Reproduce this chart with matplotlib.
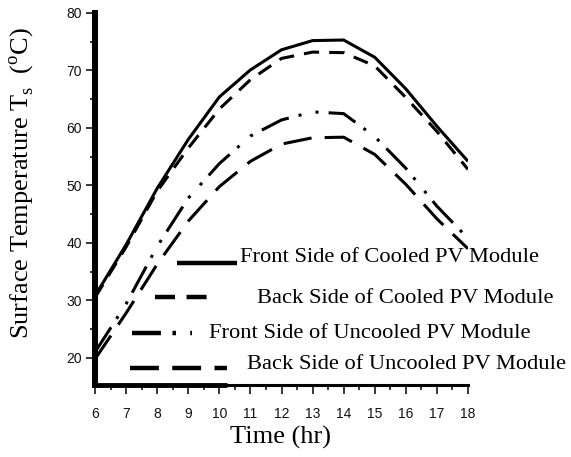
import matplotlib
matplotlib.use('Agg')
import matplotlib.pyplot as plt
import matplotlib.ticker as ticker

#----------------------------------------------------------------------------------------------------
# data
#----------------------------------------------------------------------------------------------------
hours = [6, 7, 8, 9, 10, 11, 12, 13, 14, 15, 16, 17, 18]
front_cooled = [30.8, 39.7, 49.5, 58.0, 65.4, 70.1, 73.6, 75.2, 75.3, 72.3, 66.8, 60.3, 54.2]
back_cooled = [30.5, 39.3, 49.0, 56.5, 63.3, 68.4, 72.1, 73.2, 73.1, 70.8, 65.3, 59.4, 52.8]
front_uncooled = [21.0, 29.4, 39.4, 47.8, 53.8, 58.6, 61.4, 62.8, 62.5, 58.5, 53.0, 46.4, 40.8]
back_uncooled = [19.8, 27.8, 36.3, 43.8, 49.8, 54.2, 57.2, 58.3, 58.4, 55.4, 50.2, 44.2, 39.0]

labels = ['Front Side of Cooled PV Module',
          'Back Side of Cooled PV Module',
          'Front Side of Uncooled PV Module',
          'Back Side of Uncooled PV Module']

serif = ['Liberation Serif', 'DejaVu Serif']
plt.rcParams['mathtext.fontset'] = 'custom'
plt.rcParams['mathtext.rm'] = 'Liberation Serif'

# line styles
lw = 2.2
styles = [dict(ls='-'),
          dict(dashes=(5, 3.3)),
          dict(dashes=(9.7, 3.3, 1, 4.7, 1, 3.3)),
          dict(dashes=(9.3, 4.3))]
key_styles = [dict(ls='-'),
              dict(dashes=(4.5, 2.6)),
              dict(dashes=(6.5, 2.6, 0.8, 3.2, 0.8, 3.0)),
              dict(dashes=(6.5, 3.0))]

#----------------------------------------------------------------------------------------------------
# plot (571x457)
#----------------------------------------------------------------------------------------------------
fig = plt.figure(figsize=(5.71, 4.57), dpi=100)
ax = fig.add_axes([95/571, 72/457, 373/571, 372/457])

series = [front_cooled, back_cooled, front_uncooled, back_uncooled]
for vals, st in zip(series, styles):
    ax.plot(hours, vals, color='black', lw=lw, solid_capstyle='butt', dash_capstyle='butt', **st)

ax.set_xlim(6, 18)
ax.set_ylim(15.3, 80)

# spines
for s in ['top', 'right']:
    ax.spines[s].set_visible(False)
ax.spines['left'].set_linewidth(4.3)
ax.spines['bottom'].set_linewidth(2.2)
# thicker start of the bottom axis, as in the original
ax.plot([0, 0.355], [0, 0], transform=ax.transAxes, color='black', lw=3.5,
        solid_capstyle='butt', clip_on=False)

# ticks
ax.xaxis.set_major_locator(ticker.MultipleLocator(1))
ax.xaxis.set_minor_locator(ticker.MultipleLocator(0.5))
ax.yaxis.set_minor_locator(ticker.MultipleLocator(5))
ax.set_yticks([20, 30, 40, 50, 60, 70, 80])
ax.tick_params(which='major', length=6.5, width=1.1, direction='out', pad=3, labelsize=10)
ax.tick_params(which='minor', length=3.5, width=1.1, direction='out')
ax.tick_params(axis='x', which='major', pad=9)
for lab in ax.get_xticklabels() + ax.get_yticklabels():
    lab.set_family(['Liberation Sans', 'DejaVu Sans'])
    lab.set_color('#111111')

# axis labels
fig.text(22/571, 1 - 183/457, r'Surface Temperature T$_\mathregular{s}$  ($^\mathregular{o}$C)',
         rotation=90, ha='center', va='center', fontsize=19, family=serif)
fig.text(280/571, 1 - 437/457, 'Time (hr)', ha='center', va='center', fontsize=19, family=serif)

# legend drawn by hand (irregular layout)
key_x = [(0.22, 0.382), (0.161, 0.327), (0.098, 0.259), (0.094, 0.353)]
key_y = [0.327, 0.237, 0.14, 0.045]
text_x = [0.388, 0.435, 0.306, 0.407]
text_dy = [0.017, -0.005, -0.001, 0.01]
for (x0, x1), y, tx, dy, lab, st in zip(key_x, key_y, text_x, text_dy, labels, key_styles):
    ax.plot([x0, x1], [y, y], transform=ax.transAxes, color='black', lw=3.2,
            solid_capstyle='butt', dash_capstyle='butt', clip_on=False, **st)
    ax.text(tx, y + dy, lab, transform=ax.transAxes, ha='left', va='center',
            fontsize=16.2, family=serif)

plt.savefig('out.png', dpi=100)
